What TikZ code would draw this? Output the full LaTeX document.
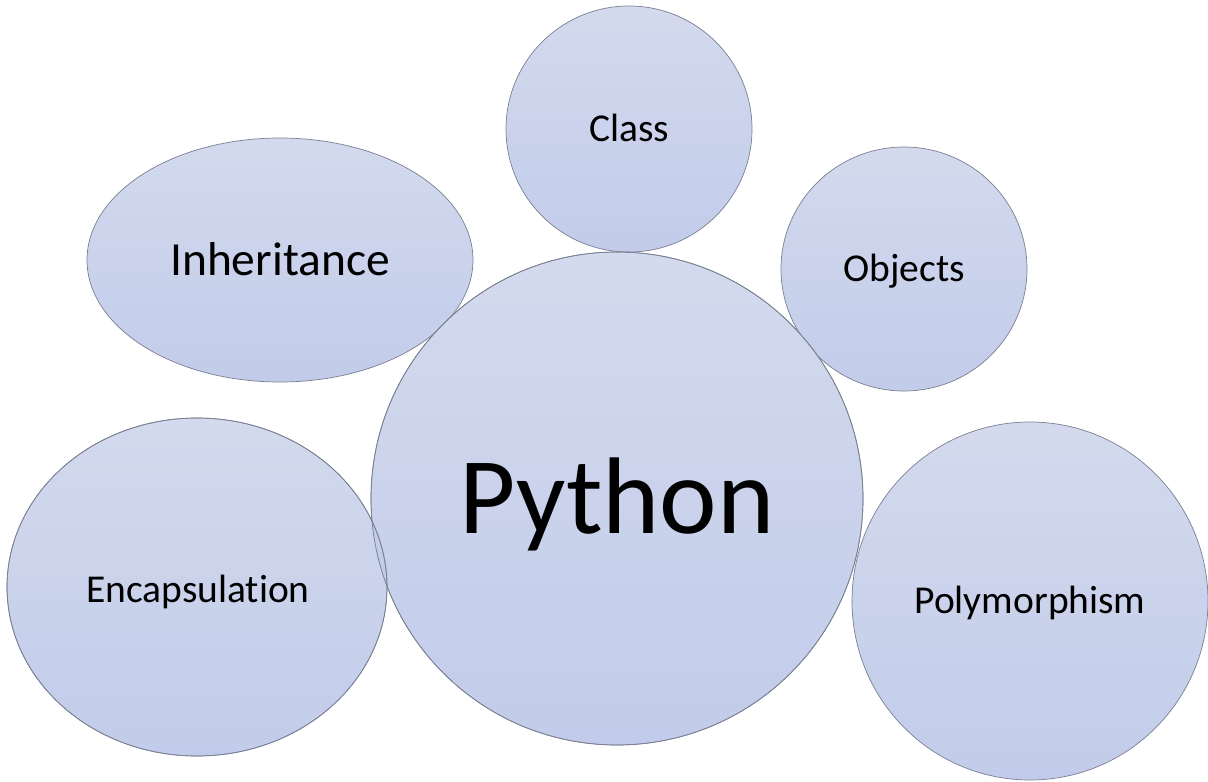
\documentclass[tikz,border=0pt]{standalone}
\usepackage{fontspec}
\setmainfont{Carlito}[Ligatures={NoCommon,NoContextual}]
\usetikzlibrary{shapes.geometric}
\definecolor{bubtop}{HTML}{D3DAED}
\definecolor{bubbot}{HTML}{C2CCEA}
\definecolor{enctop}{HTML}{CBD3EA}
\definecolor{encbot}{HTML}{B7C3E6}
\definecolor{bubline}{HTML}{7A7F92}
\tikzset{
  bubble/.style={ellipse, inner sep=0pt, outer sep=0pt, line width=0.7pt,
    top color=bubtop, bottom color=bubbot, draw=bubline},
  outline/.style={ellipse, inner sep=0pt, outer sep=0pt, line width=0.7pt, draw=bubline},
  lbl/.style={anchor=base, inner sep=0pt, text=black},
  small/.style={font=\fontsize{39.5}{40}\selectfont},
}
\begin{document}
\begin{tikzpicture}[x=1pt,y=-1pt]
\useasboundingbox (0,0) rectangle (1208,782);
% bubbles
\node[bubble, minimum width=386pt, minimum height=244pt] (inh) at (280,260) {};
\node[bubble, minimum width=246pt, minimum height=246pt] (cls) at (629,129) {};
\node[bubble, minimum width=246pt, minimum height=244pt] (obj) at (904,269) {};
\node[bubble, minimum width=492pt, minimum height=493pt] (py) at (617,498.5) {};
\node[bubble, minimum width=356pt, minimum height=358pt] (poly) at (1030,601) {};
\node[bubble, minimum width=380pt, minimum height=338pt, top color=enctop, bottom color=encbot, fill opacity=0.85] (enc) at (197,587) {};
% outlines redrawn so overlaps show both borders
\node[outline, minimum width=492pt, minimum height=493pt] (pyo) at (617,498.5) {};
\node[outline, minimum width=380pt, minimum height=338pt] (enco) at (197,587) {};
% labels
\node[lbl, small] (tcls) at (629.5,141) {Class};
\node[lbl, font=\fontsize{47.5}{48}\selectfont] (tinh) at (280,275) {Inheritance};
\node[lbl, small] (tobj) at (904,281) {Objects};
\node[lbl, font=\fontsize{109}{110}\selectfont] (tpy) at (617,533) {Python};
\node[lbl, small] (tenc) at (198,602) {Encapsulat\kern0pt ion};
\node[lbl, small] (tpoly) at (1030,613) {Polymorphism};
\end{tikzpicture}
\end{document}
